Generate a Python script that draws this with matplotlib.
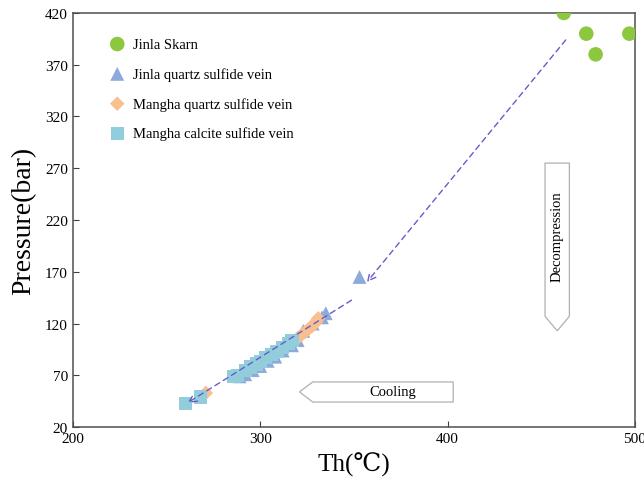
import matplotlib
matplotlib.use("Agg")
import matplotlib.pyplot as plt
from matplotlib.patches import Polygon
import numpy as np

plt.rcParams['font.family'] = ['Liberation Serif', 'DejaVu Serif', 'DejaVu Sans']

# Jinla Skarn (circles)
skarn_t = [462, 474, 479, 497]
skarn_p = [420, 400, 380, 400]

# Jinla quartz sulfide vein (triangles)
jq_t = [353, 335, 333, 328, 323, 320, 317, 312, 308, 304, 300, 296, 292, 289]
jq_p = [165, 130, 126, 120, 113, 104, 99, 94, 88, 84, 79, 75, 71, 69]

# Mangha quartz sulfide vein (diamonds)
mq_t = [271, 318, 320, 322, 324, 326, 328, 330, 331]
mq_p = [53, 103, 106, 109, 112, 115, 118, 122, 125]

# Mangha calcite sulfide vein (squares)
mc_t = [260, 268, 286, 288, 292, 295, 298, 300, 303, 306, 309, 312, 315, 317]
mc_p = [43, 49, 69, 70, 75, 78, 81, 83, 87, 90, 93, 97, 101, 104]

xticks = [200, 300, 400, 500]
yticks = [20, 70, 120, 170, 220, 270, 320, 370, 420]

fig = plt.figure(figsize=(6.44, 4.81), dpi=100)
ax = fig.add_axes([0.113, 0.110, 0.873, 0.861])

ax.scatter(skarn_t, skarn_p, s=110, marker='o', color='#8dc63f', edgecolors='none',
           label='Jinla Skarn', zorder=3)
ax.scatter(jq_t, jq_p, s=100, marker='^', color='#8eaadb', edgecolors='none',
           label='Jinla quartz sulfide vein', zorder=3)
ax.scatter(mq_t, mq_p, s=55, marker='D', color='#f8bf8f', edgecolors='none',
           label='Mangha quartz sulfide vein', zorder=3)
ax.scatter(mc_t, mc_p, s=90, marker='s', color='#92cddc', edgecolors='none',
           label='Mangha calcite sulfide vein', zorder=3)

# dashed trend arrows
arrow_kw = dict(arrowstyle='->', color='#6a5acd', lw=1.0, linestyle=(0, (4, 3)),
                mutation_scale=14)
ax.annotate('', xy=(356, 158), xytext=(464, 396), arrowprops=arrow_kw, zorder=4)
ax.annotate('', xy=(260, 42), xytext=(350, 144), arrowprops=arrow_kw, zorder=4)

# Cooling arrow box
cool = Polygon([(321, 54), (328, 63.6), (403, 63.6), (403, 44.2), (328, 44.2)],
               closed=True, facecolor='white', edgecolor='#b0b0b0', lw=0.9, zorder=2)
ax.add_patch(cool)
ax.text(371, 54, 'Cooling', ha='center', va='center', fontsize=10.5, zorder=3)

# Decompression arrow box
dec = Polygon([(452, 275), (465, 275), (465, 127), (458.5, 113), (452, 127)],
              closed=True, facecolor='white', edgecolor='#b0b0b0', lw=0.9, zorder=2)
ax.add_patch(dec)
ax.text(458.5, 205, 'Decompression', ha='center', va='center', rotation=90,
        fontsize=10.5, zorder=3)

ax.set_xlim(200, 500)
ax.set_ylim(20, 420)
ax.set_xticks(xticks)
ax.set_yticks(yticks)
ax.tick_params(direction='in', length=4, labelsize=11, colors='#404040',
               labelcolor='black', width=0.8)
for s in ax.spines.values():
    s.set_color('#505050')
    s.set_linewidth(1.1)

ax.set_xlabel('Th(℃)', fontsize=18, labelpad=5)
ax.set_ylabel('Pressure(bar)', fontsize=20, labelpad=6)

ax.legend(loc='upper left', bbox_to_anchor=(0.035, 0.965), frameon=False, fontsize=10.5,
          handletextpad=0.05, labelspacing=1.1, scatterpoints=1, borderaxespad=0.3)

fig.savefig('out.png', dpi=100)
